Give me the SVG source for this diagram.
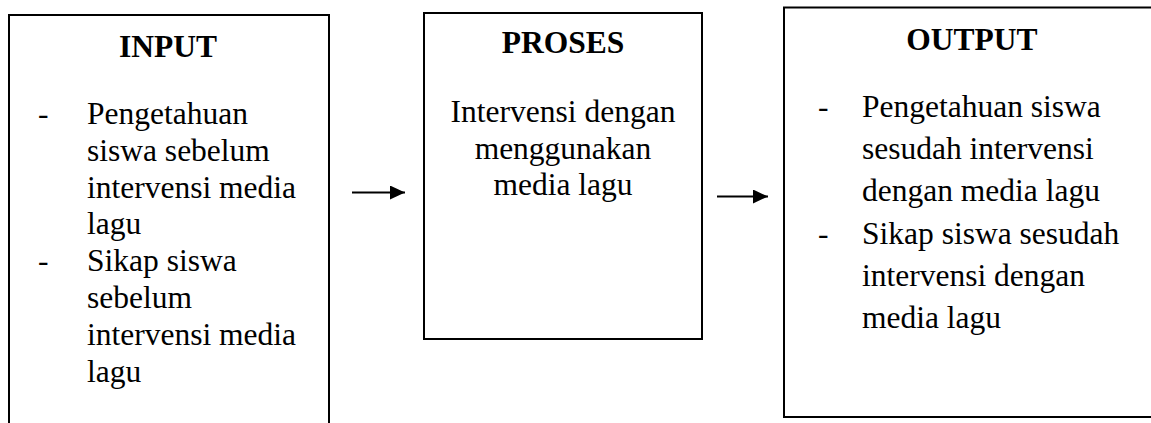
<svg xmlns="http://www.w3.org/2000/svg" width="1151" height="423" viewBox="0 0 1151 423">
<style>
.box{fill:#fff;stroke:#000;stroke-width:2}
.t{font-family:"Liberation Serif","Times New Roman",serif;font-size:31.5px;fill:#000}
.h{font-weight:bold;text-anchor:middle}
.c{text-anchor:middle}
.conn{stroke:#000;stroke-width:2;fill:none}
</style>
<defs>
<marker id="ah" markerUnits="userSpaceOnUse" markerWidth="16" markerHeight="16" refX="15" refY="7" orient="auto">
<path d="M0,0 L15,7 L0,14 Z" fill="#000"/>
</marker>
</defs>
<rect width="1151" height="423" fill="#fff"/>
<g id="input">
<rect class="box" x="9" y="15" width="320" height="420"/>
<text class="t h" x="168" y="57">INPUT</text>
<text class="t" x="38" y="124">-</text>
<text class="t" x="87" y="124">Pengetahuan</text>
<text class="t" x="87" y="160.8">siswa sebelum</text>
<text class="t" x="87" y="197.6">intervensi media</text>
<text class="t" x="87" y="234.4">lagu</text>
<text class="t" x="38" y="271.2">-</text>
<text class="t" x="87" y="271.2">Sikap siswa</text>
<text class="t" x="87" y="308">sebelum</text>
<text class="t" x="87" y="344.8">intervensi media</text>
<text class="t" x="87" y="381.6">lagu</text>
</g>
<g id="proses">
<rect class="box" x="424" y="13" width="278" height="326"/>
<text class="t h" x="563" y="53">PROSES</text>
<text class="t c" x="563" y="122">Intervensi dengan</text>
<text class="t c" x="563" y="158.5">menggunakan</text>
<text class="t c" x="563" y="195">media lagu</text>
</g>
<g id="output">
<rect class="box" x="784" y="7.5" width="370" height="409.5"/>
<text class="t h" x="972" y="50">OUTPUT</text>
<text class="t" x="818" y="117">-</text>
<text class="t" x="862" y="117">Pengetahuan siswa</text>
<text class="t" x="862" y="159.2">sesudah intervensi</text>
<text class="t" x="862" y="201.4">dengan media lagu</text>
<text class="t" x="818" y="243.6">-</text>
<text class="t" x="862" y="243.6">Sikap siswa sesudah</text>
<text class="t" x="862" y="285.8">intervensi dengan</text>
<text class="t" x="862" y="328">media lagu</text>
</g>
<g id="connectors">
<line class="conn" x1="352" y1="192.5" x2="405" y2="192.5" marker-end="url(#ah)"/>
<line class="conn" x1="717" y1="196.5" x2="768" y2="196.5" marker-end="url(#ah)"/>
</g>
</svg>
